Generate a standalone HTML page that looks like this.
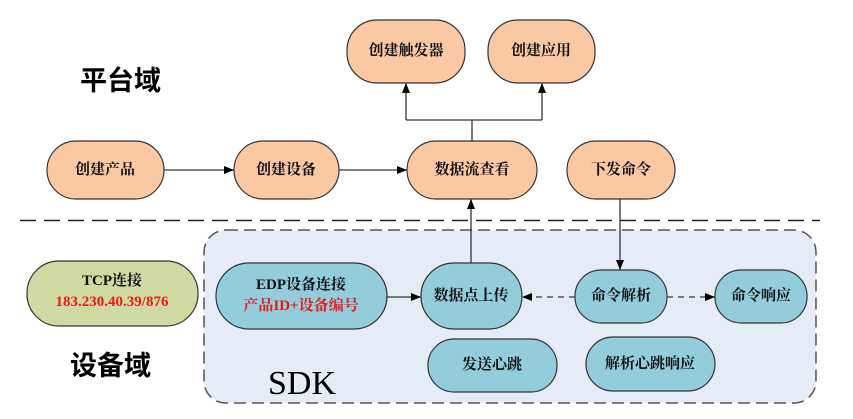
<!DOCTYPE html>
<html><head><meta charset="utf-8"><style>
html,body{margin:0;padding:0;background:#fff;}
svg{display:block;}
.n{font-family:"Liberation Serif","Noto Serif CJK SC",serif;font-weight:bold;font-size:15px;fill:#111;text-anchor:middle;dominant-baseline:central;}
.big{font-family:"Liberation Sans","Noto Sans CJK SC",sans-serif;font-weight:bold;font-size:27px;fill:#000;}
</style></head><body>
<svg width="853" height="419" viewBox="0 0 853 419" xmlns="http://www.w3.org/2000/svg">
<defs>
<marker id="a" markerWidth="10" markerHeight="8" refX="10" refY="4" orient="auto" markerUnits="userSpaceOnUse">
<path d="M0,0 L10,4 L0,8 z" fill="#000"/></marker>
</defs>
<line x1="20" y1="220.5" x2="820" y2="220.5" stroke="#222" stroke-width="1.5" stroke-dasharray="16,8"/>
<rect x="204" y="230" width="612" height="173" rx="22" fill="#e6ecf6" stroke="#555" stroke-width="1.5" stroke-dasharray="12,6"/>
<text class="big" x="80" y="90">平台域</text>
<text class="big" x="70" y="375">设备域</text>
<text x="268" y="394" font-family="Liberation Serif,serif" font-size="34" fill="#000">SDK</text>
<g stroke="#333" stroke-width="1.2">
<rect x="47" y="141" width="117" height="58" rx="29" fill="#fac9a4"/>
<rect x="234" y="141" width="105" height="58" rx="29" fill="#fac9a4"/>
<rect x="407" y="141" width="130" height="58" rx="29" fill="#fac9a4"/>
<rect x="567" y="141" width="108" height="58" rx="29" fill="#fac9a4"/>
<rect x="347" y="20" width="118" height="63" rx="30" fill="#fac9a4"/>
<rect x="488" y="20" width="107" height="63" rx="30" fill="#fac9a4"/>
<rect x="27" y="261" width="171" height="65" rx="32" fill="#cfd9a2"/>
<rect x="216" y="263" width="171" height="66" rx="33" fill="#93cddb"/>
<rect x="421" y="263" width="101" height="66" rx="33" fill="#93cddb"/>
<rect x="575" y="270" width="92" height="53" rx="26" fill="#93cddb"/>
<rect x="715" y="270" width="92" height="53" rx="26" fill="#93cddb"/>
<rect x="428" y="339" width="129" height="53" rx="26" fill="#93cddb"/>
<rect x="586" y="337" width="129" height="54" rx="27" fill="#93cddb"/>
</g>
<g stroke="#333" stroke-width="1.3" fill="none">
<line x1="164" y1="170" x2="234" y2="170" marker-end="url(#a)"/>
<line x1="339" y1="170" x2="407" y2="170" marker-end="url(#a)"/>
<polyline points="472,141 472,120"/>
<polyline points="406,120 542,120"/>
<line x1="406" y1="120" x2="406" y2="83" marker-end="url(#a)"/>
<line x1="542" y1="120" x2="542" y2="83" marker-end="url(#a)"/>
<line x1="471" y1="263" x2="471" y2="199" marker-end="url(#a)"/>
<line x1="620" y1="199" x2="620" y2="270" marker-end="url(#a)"/>
<line x1="387" y1="297" x2="421" y2="297" marker-end="url(#a)"/>
<line x1="575" y1="297" x2="522" y2="297" stroke-dasharray="6,5" marker-end="url(#a)"/>
<line x1="667" y1="297" x2="715" y2="297" stroke-dasharray="6,5" marker-end="url(#a)"/>
</g>
<text class="n" x="105" y="170">创建产品</text>
<text class="n" x="286" y="170">创建设备</text>
<text class="n" x="472" y="170">数据流查看</text>
<text class="n" x="621" y="170">下发命令</text>
<text class="n" x="406" y="51">创建触发器</text>
<text class="n" x="541" y="51">创建应用</text>
<text class="n" x="112" y="281">TCP连接</text>
<text class="n" x="112" y="302" style="fill:#e8191a">183.230.40.39/876</text>
<text class="n" x="301" y="285">EDP设备连接</text>
<text class="n" x="301" y="306" style="fill:#e8191a">产品ID+设备编号</text>
<text class="n" x="471" y="296">数据点上传</text>
<text class="n" x="621" y="296">命令解析</text>
<text class="n" x="761" y="296">命令响应</text>
<text class="n" x="492" y="365">发送心跳</text>
<text class="n" x="650" y="364">解析心跳响应</text>
</svg>
</body></html>
